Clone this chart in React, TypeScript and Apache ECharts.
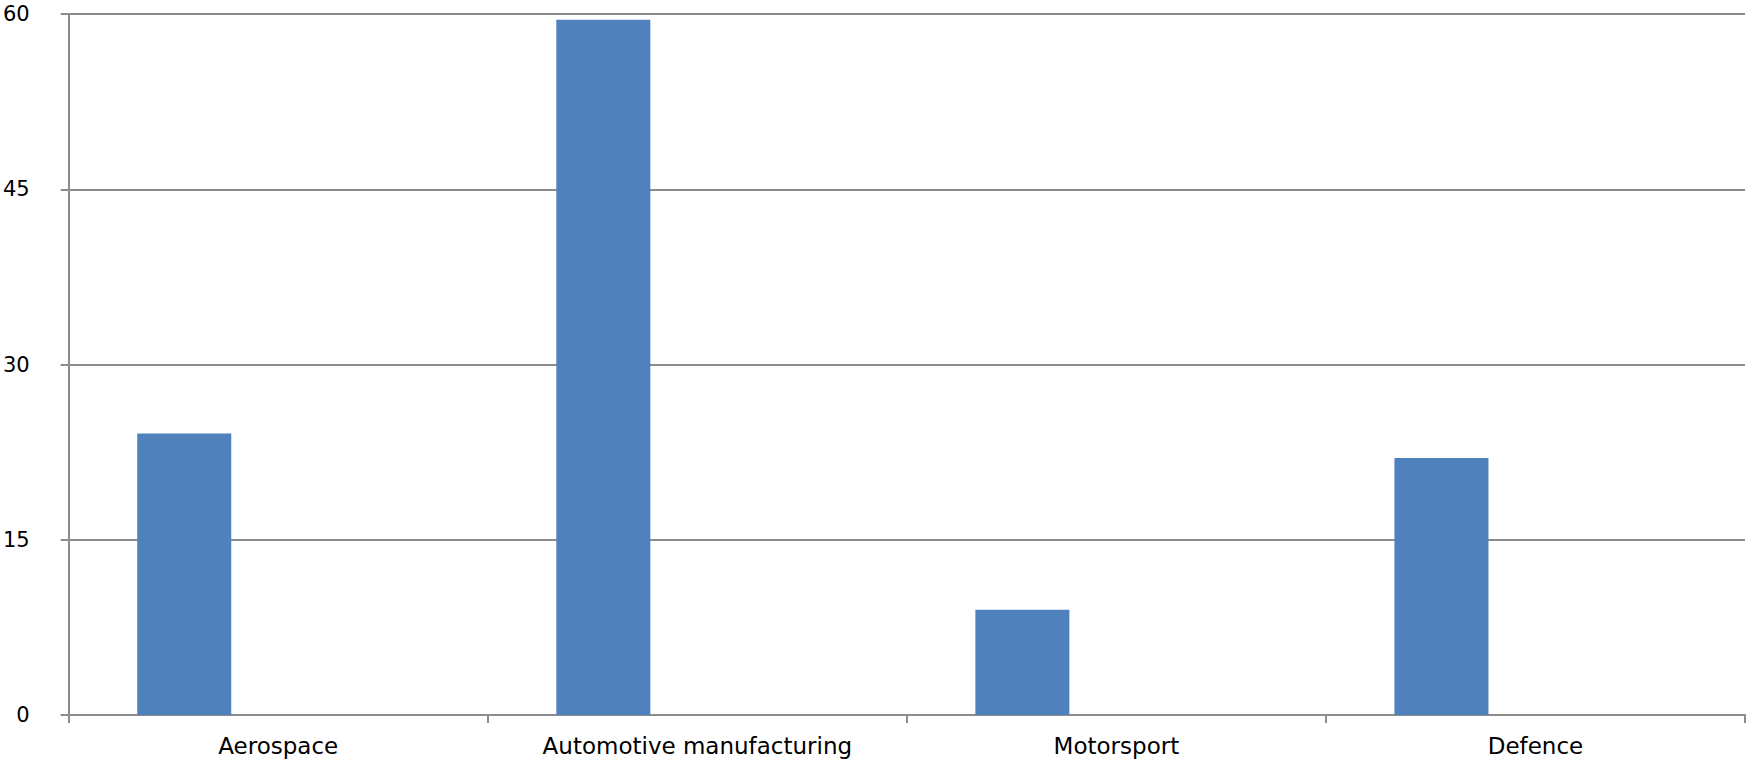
import React, { useEffect, useRef } from "react";
import * as echarts from "echarts";

const categories = ["Aerospace", "Automotive manufacturing", "Motorsport", "Defence"];
const seriesValues = [24.1, 59.5, 9, 22];
const emptySeriesB = [null, null, null, null];
const emptySeriesC = [null, null, null, null];
const yTicks = { min: 0, max: 60, interval: 15 };

export default function App() {
  const ref = useRef<HTMLDivElement>(null);
  useEffect(() => {
    if (!ref.current) return;
    const chart = echarts.init(ref.current, undefined, { renderer: "svg" });
    const gray = "#8c8c8c";
    const barCommon = { type: "bar", barGap: "0%", barCategoryGap: "32.7%" };
    chart.setOption({
      animation: false,
      backgroundColor: "#ffffff",
      grid: { left: 68, right: 3, top: 14, bottom: 49, containLabel: false },
      xAxis: {
        type: "category",
        data: categories,
        boundaryGap: true,
        axisLine: { show: true, lineStyle: { color: gray, width: 2 } },
        axisTick: { show: true, length: 8, lineStyle: { color: gray, width: 2 } },
        axisLabel: {
          color: "#000",
          fontFamily: "DejaVu Sans",
          fontSize: 23,
          margin: 19,
          interval: 0,
        },
        splitLine: { show: false },
      },
      yAxis: {
        type: "value",
        min: yTicks.min,
        max: yTicks.max,
        interval: yTicks.interval,
        axisLine: { show: true, lineStyle: { color: gray, width: 2 } },
        axisTick: { show: true, length: 8, lineStyle: { color: gray, width: 2 } },
        axisLabel: {
          color: "#000",
          fontFamily: "DejaVu Sans",
          fontSize: 21,
          margin: 39,
          align: "right",
        },
        splitLine: { show: true, lineStyle: { color: gray, width: 2 } },
      },
      series: [
        { ...barCommon, data: seriesValues, itemStyle: { color: "#4f81bd" } },
        { ...barCommon, data: emptySeriesB, itemStyle: { color: "#c0504d" } },
        { ...barCommon, data: emptySeriesC, itemStyle: { color: "#9bbb59" } },
      ],
    });
    return () => chart.dispose();
  }, []);
  return (
    <div
      ref={ref}
      style={{ position: "fixed", left: 0, top: 0, width: 1748, height: 764, background: "#fff" }}
    />
  );
}
